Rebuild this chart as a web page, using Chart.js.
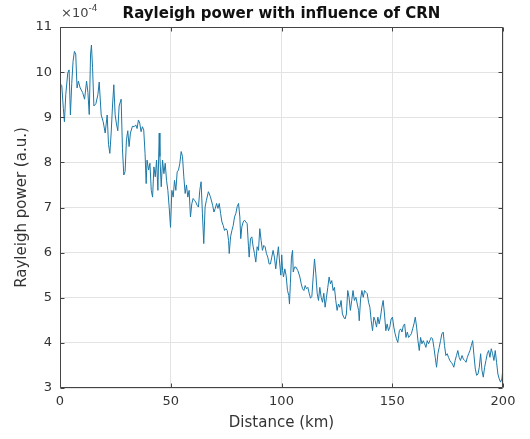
<!DOCTYPE html>
<html>
<head>
<meta charset="utf-8">
<script src="https://cdn.jsdelivr.net/npm/chart.js@4"></script>
<style>
html,body{margin:0;padding:0;background:#fff;}
#wrap{width:530px;height:439px;position:relative;}
</style>
</head>
<body>
<div id="wrap"><canvas id="c" width="530" height="439"></canvas></div>
<script>
// Distance (km)
const distances = [
0.0,0.8,1.5,2.0,2.6,3.5,4.1,4.7,5.3,5.9,6.5,7.1,7.7,8.3,9.1,10.2,11.1,12.0,12.6,13.2,
13.8,14.2,14.7,15.3,16.2,17.1,17.7,18.6,19.5,20.4,21.3,21.9,22.5,23.1,23.7,24.3,24.9,25.5,26.1,26.7,
27.6,28.2,28.8,29.4,30.0,30.6,31.2,31.8,32.7,33.5,34.2,34.8,35.4,36.0,36.6,37.2,37.8,38.4,38.9,39.3,
40.0,40.6,41.2,41.8,42.4,43.0,43.6,44.2,44.8,45.1,45.7,46.3,46.9,47.5,48.1,48.7,49.3,49.9,50.5,51.1,
51.7,52.3,52.9,53.5,54.1,54.7,55.3,55.9,56.5,57.1,57.7,58.3,58.9,59.5,60.1,60.7,61.3,61.9,62.5,63.1,
63.7,64.3,64.9,65.5,66.1,67.0,67.9,68.9,69.5,70.1,70.7,71.3,71.9,72.5,73.1,73.7,74.3,74.9,75.5,76.1,
76.4,77.0,77.6,78.2,78.8,79.4,80.0,80.6,81.2,81.6,82.1,82.7,83.3,83.9,84.5,85.1,85.4,86.0,86.6,87.2,
87.8,88.4,89.0,89.6,90.2,90.8,91.4,92.0,92.6,93.2,93.8,94.4,95.0,95.6,96.2,96.8,97.4,98.0,98.6,99.2,
99.7,100.1,100.5,100.9,101.5,102.1,102.7,103.3,103.6,104.0,104.5,105.0,105.3,105.9,106.5,107.4,108.3,108.9,109.5,110.1,
110.7,111.3,111.9,112.5,113.1,113.7,114.3,114.9,115.5,116.1,116.7,117.3,117.9,118.5,119.1,119.7,120.3,120.9,121.5,122.1,
122.7,123.3,123.9,124.5,125.1,125.7,126.3,126.9,127.5,128.1,128.7,129.3,129.9,130.5,131.1,131.7,132.3,132.9,133.6,134.2,
134.8,135.1,135.7,136.3,136.9,137.5,138.1,138.7,139.3,139.9,140.5,141.1,141.7,142.3,142.9,143.5,144.1,144.7,145.3,145.9,
146.5,147.1,147.7,148.3,148.9,149.5,150.1,150.7,151.3,151.9,152.5,153.2,153.8,154.4,155.0,155.6,156.2,156.8,157.4,158.0,
158.6,159.2,159.8,160.4,161.0,161.6,162.2,162.8,163.4,164.0,164.6,165.2,165.8,166.4,167.0,167.6,168.2,168.8,169.4,170.0,
170.6,171.2,171.8,172.4,173.0,173.6,174.2,174.8,175.4,176.0,176.6,177.2,177.8,178.4,179.0,179.6,180.2,180.8,181.5,182.1,
182.7,183.3,183.9,184.5,185.1,185.7,186.3,186.9,187.5,188.1,188.7,189.3,189.9,190.5,191.1,191.7,192.3,192.9,193.5,194.1,
194.7,195.3,195.9,196.5,197.1,197.7,198.3,198.9,199.5,200.0
];
// Rayleigh power (a.u.), in units of 1e-4
const powers = [
9.75,9.70,9.20,8.90,9.50,9.98,10.05,9.05,9.75,10.24,10.46,10.40,9.65,9.80,9.65,9.55,9.40,9.80,9.55,9.06,
10.40,10.60,10.10,9.25,9.30,9.50,9.78,9.05,8.90,8.65,9.05,8.40,8.20,8.65,9.25,9.72,9.05,8.85,8.70,9.25,
9.40,8.30,7.72,7.80,8.50,8.70,8.35,8.65,8.80,8.79,8.83,8.75,8.94,8.87,8.68,8.79,8.72,8.20,7.53,8.05,
7.83,7.98,7.38,7.23,7.90,7.68,8.05,7.38,8.65,8.13,7.46,8.05,7.75,7.98,7.60,7.38,7.00,6.56,7.38,7.23,
7.60,7.38,7.79,7.83,7.98,8.24,8.13,7.68,7.31,7.50,7.23,7.38,6.79,7.08,7.20,7.16,7.12,7.05,7.01,7.38,
7.57,6.86,6.20,7.01,7.16,7.35,7.24,7.05,6.90,6.98,7.09,6.98,7.09,6.87,6.68,6.60,6.49,6.53,6.49,6.27,
5.98,6.35,6.49,6.60,6.79,6.87,7.02,7.09,6.79,6.31,6.57,6.68,6.72,6.68,6.64,6.13,5.90,6.31,6.35,6.13,
5.98,5.79,6.13,6.05,6.53,6.27,6.05,6.16,6.13,5.98,5.90,5.75,5.75,5.90,6.05,5.90,5.64,5.90,6.13,5.75,
5.50,5.95,5.60,5.46,5.64,5.49,5.16,5.05,4.86,5.31,5.90,6.05,5.57,5.68,5.68,5.60,5.46,5.31,5.20,5.16,
5.27,5.20,5.23,5.10,4.99,5.03,5.46,5.86,5.53,5.10,4.94,5.23,5.01,4.90,5.10,4.79,5.01,5.23,5.46,5.31,
5.38,5.16,5.23,4.94,4.72,4.86,4.79,4.94,4.64,4.57,4.53,4.64,5.16,5.01,4.72,4.94,5.16,4.94,5.01,4.86,
4.72,4.49,4.97,5.16,5.01,5.16,5.12,5.09,4.90,4.79,4.49,4.27,4.57,4.49,4.35,4.57,4.42,4.57,4.79,4.94,
4.64,4.27,4.42,4.27,4.35,4.53,4.57,4.35,4.20,4.09,4.01,4.27,4.31,4.24,4.38,4.42,4.12,4.24,4.12,4.16,
4.20,4.31,4.42,4.57,4.35,4.05,3.83,4.12,3.98,4.05,3.98,3.90,4.05,3.98,4.05,4.12,4.09,3.90,3.68,3.46,
3.76,3.90,4.05,4.20,4.24,3.94,3.72,3.76,3.68,3.61,3.57,3.53,3.46,3.61,3.72,3.83,3.68,3.61,3.72,3.64,
3.61,3.57,3.68,3.76,3.83,3.94,4.05,3.72,3.42,3.28,3.31,3.46,3.76,3.39,3.24,3.46,3.61,3.76,3.83,3.68,
3.87,3.76,3.61,3.83,3.57,3.31,3.20,3.13,3.20,3.46
];
const xTicks = [0, 50, 100, 150, 200];
const yTicks = [3, 4, 5, 6, 7, 8, 9, 10, 11];
const yExponent = '-4';
const titleText = 'Rayleigh power with influence of CRN';
const xLabel = 'Distance (km)';
const yLabel = 'Rayleigh power (a.u.)';

const FONT = "'DejaVu Sans', sans-serif";
const AXC = '#333333';

const pts = distances.map((d, i) => ({x: d, y: powers[i]}));

const decor = {
  id: 'decor',
  afterDraw(chart) {
    const ctx = chart.ctx;
    const a = chart.chartArea;
    const xs = chart.scales.x, ys = chart.scales.y;
    const L = Math.round(a.left) + 0.5, R = Math.round(a.right) - 0.5;
    const T = Math.round(a.top) + 0.5, B = Math.round(a.bottom) - 0.5;
    ctx.save();
    ctx.strokeStyle = '#444444';
    ctx.lineWidth = 1;
    ctx.beginPath();
    ctx.rect(L, T, R - L, B - T);
    ctx.stroke();
    // inward ticks
    ctx.beginPath();
    xTicks.forEach(v => {
      const px = Math.round(xs.getPixelForValue(v)) + 0.5;
      ctx.moveTo(px, B); ctx.lineTo(px, B - 4);
      ctx.moveTo(px, T); ctx.lineTo(px, T + 4);
    });
    yTicks.forEach(v => {
      const py = Math.round(ys.getPixelForValue(v)) + 0.5;
      ctx.moveTo(L, py); ctx.lineTo(L + 4, py);
      ctx.moveTo(R, py); ctx.lineTo(R - 4, py);
    });
    ctx.stroke();
    // exponent
    ctx.fillStyle = '#444444';
    ctx.textBaseline = 'alphabetic';
    ctx.textAlign = 'left';
    ctx.font = '13px ' + FONT;
    ctx.fillText('\u00d710', a.left + 1, 17);
    const w = ctx.measureText('\u00d710').width;
    ctx.font = '9px ' + FONT;
    ctx.fillText(yExponent, a.left + 1 + w, 11);
    // title
    ctx.fillStyle = '#111111';
    ctx.font = 'bold 15px ' + FONT;
    ctx.textAlign = 'center';
    ctx.fillText(titleText, (a.left + a.right) / 2 , 18);
    ctx.restore();
  }
};

new Chart(document.getElementById('c'), {
  type: 'line',
  data: {
    datasets: [{
      data: pts,
      borderColor: '#1b78a8',
      borderWidth: 1,
      pointRadius: 0,
      tension: 0,
      fill: false
    }]
  },
  options: {
    responsive: false,
    animation: false,
    parsing: true,
    layout: {padding: {left: 0, right: 27, top: 27, bottom: 0}},
    plugins: {legend: {display: false}, tooltip: {enabled: false}, title: {display: false}},
    scales: {
      x: {
        type: 'linear', min: 0, max: 200,
        afterFit(s) { s.height = 51; },
        afterBuildTicks(s) { s.ticks = xTicks.map(v => ({value: v})); },
        ticks: {font: {family: FONT, size: 13}, color: AXC, padding: 6, maxRotation: 0},
        grid: {color: '#e3e3e3', drawTicks: false},
        border: {display: false},
        title: {display: true, text: xLabel, font: {family: FONT, size: 15}, color: AXC, padding: {top: 0, bottom: 7}}
      },
      y: {
        type: 'linear', min: 3, max: 11,
        afterFit(s) { s.width = 60; },
        afterBuildTicks(s) { s.ticks = yTicks.map(v => ({value: v})); },
        ticks: {font: {family: FONT, size: 13}, color: AXC, padding: 8},
        grid: {color: '#e3e3e3', drawTicks: false},
        border: {display: false},
        title: {display: true, text: yLabel, font: {family: FONT, size: 15}, color: AXC, padding: {top: 13, bottom: 0}}
      }
    }
  },
  plugins: [decor]
});
</script>
</body>
</html>
